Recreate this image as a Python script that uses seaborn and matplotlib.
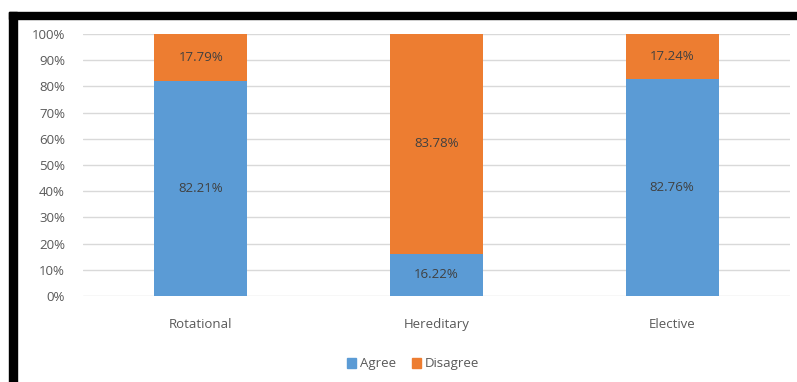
import matplotlib
matplotlib.use("Agg")
import matplotlib.pyplot as plt
import seaborn as sns
import pandas as pd
from matplotlib.patches import Rectangle, Patch

categories = ["Rotational", "Hereditary", "Elective"]
agree = [82.21, 16.22, 82.76]
disagree = [17.79, 83.78, 17.24]
yticks = [0, 10, 20, 30, 40, 50, 60, 70, 80, 90, 100]

BLUE = "#5B9BD5"
ORANGE = "#ED7D31"
TXT = "#595959"
FS = 9.5

sns.set_theme(style="white")
plt.rcParams["font.family"] = ["Open Sans", "DejaVu Sans"]

df = pd.DataFrame({"cat": categories, "agree": agree, "disagree": disagree})
df["total"] = df["agree"] + df["disagree"]

fig = plt.figure(figsize=(7.97, 3.82), dpi=100)
ax = fig.add_axes([83 / 797, 1 - 296 / 382, 707 / 797, (296 - 34) / 382])

sns.barplot(data=df, x="cat", y="total", color=ORANGE, width=0.395,
            saturation=1, ax=ax, zorder=2, linewidth=0)
sns.barplot(data=df, x="cat", y="agree", color=BLUE, width=0.395,
            saturation=1, ax=ax, zorder=2, linewidth=0)

for i, (a, d) in enumerate(zip(agree, disagree)):
    ax.text(i, a / 2, f"{a:.2f}%", ha="center", va="center",
            fontsize=FS, color="#404040", zorder=3)
    ax.text(i, a + d / 2, f"{d:.2f}%", ha="center", va="center",
            fontsize=FS, color="#404040", zorder=3)

ax.set_ylim(0, 100)
ax.set_xlim(-0.5, 2.5)
ax.set_yticks(yticks)
ax.set_yticklabels([f"{t}%" for t in yticks])
ax.yaxis.grid(True, color="#D9D9D9", linewidth=1)
ax.set_axisbelow(True)
for s in ax.spines.values():
    s.set_visible(False)
ax.tick_params(axis="y", length=0, pad=13, labelsize=FS, labelcolor=TXT)
ax.tick_params(axis="x", length=0, pad=16, labelsize=FS, labelcolor=TXT)
ax.set_xlabel("")
ax.set_ylabel("")

handles = [Patch(color=BLUE, label="Agree"), Patch(color=ORANGE, label="Disagree")]
fig.legend(handles=handles, loc="center", bbox_to_anchor=(413 / 797, 1 - 364 / 382),
           ncol=2, frameon=False, fontsize=FS, handlelength=0.7, handleheight=0.7,
           handletextpad=0.3, columnspacing=1.2, labelcolor=TXT)

# black border decoration
fig.patches.append(Rectangle((9 / 797, 1 - 19 / 382), 788 / 797, 7 / 382,
                             transform=fig.transFigure, color="black", zorder=10))
fig.patches.append(Rectangle((9 / 797, 0), 8 / 797, 1 - 12 / 382,
                             transform=fig.transFigure, color="black", zorder=10))

fig.savefig("out.png", dpi=100)
